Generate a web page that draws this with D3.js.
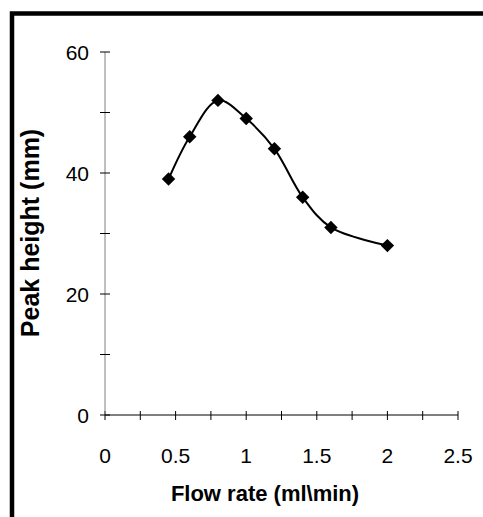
<!DOCTYPE html>
<html>
<head>
<meta charset="utf-8">
<script src="https://cdn.jsdelivr.net/npm/d3@7"></script>
<style>
    body { margin: 0; background: #fff; }
    svg { display: block; font-family: Arial, "Liberation Sans", sans-serif; }
</style>
</head>
<body>
<div id="chart"></div>
<script>
// flow rate (ml/min) vs peak height (mm)
var flowRate = [0.45, 0.6, 0.8, 1.0, 1.2, 1.4, 1.6, 2.0];
var peakHeight = [39, 46, 52, 49, 44, 36, 31, 28];
var xTicks = [0, 0.5, 1, 1.5, 2, 2.5];
var xMinorTicks = [0.25, 0.75, 1.25, 1.75, 2.25];
var yTicks = [0, 20, 40, 60];
var yMinorTicks = [10, 30, 50];

var width = 483, height = 517;

var svg = d3.select("#chart")
    .append("svg")
    .attr("width", width)
    .attr("height", height);

// frame (only top and left edges are inside the picture)
svg.append("rect")
    .attr("x", 12)
    .attr("y", 13.5)
    .attr("width", 600)
    .attr("height", 600)
    .attr("fill", "none")
    .attr("stroke", "#000")
    .attr("stroke-width", 4.5);

var x = d3.scaleLinear().domain([0, 2.5]).range([105, 458]);
var y = d3.scaleLinear().domain([0, 60]).range([415, 52]);

// x axis
var xAxis = svg.append("g");
xAxis.append("line")
    .attr("x1", x(0)).attr("x2", x(2.5))
    .attr("y1", y(0)).attr("y2", y(0))
    .attr("stroke", "#000");
xAxis.selectAll("line.tick")
    .data(xTicks.concat(xMinorTicks))
    .enter().append("line")
    .attr("class", "tick")
    .attr("x1", function (d) { return x(d); })
    .attr("x2", function (d) { return x(d); })
    .attr("y1", y(0) - 4)
    .attr("y2", y(0) + 5)
    .attr("stroke", "#000");
xAxis.selectAll("text")
    .data(xTicks)
    .enter().append("text")
    .attr("x", function (d) { return x(d); })
    .attr("y", 463)
    .attr("text-anchor", "middle")
    .style("font-size", "21px")
    .text(function (d) { return d; });

// y axis
var yAxis = svg.append("g");
yAxis.append("line")
    .attr("x1", x(0)).attr("x2", x(0))
    .attr("y1", y(0)).attr("y2", y(60))
    .attr("stroke", "#808080");
yAxis.selectAll("line.tick")
    .data(yTicks.concat(yMinorTicks))
    .enter().append("line")
    .attr("class", "tick")
    .attr("x1", x(0) - 5)
    .attr("x2", x(0) + 5)
    .attr("y1", function (d) { return y(d); })
    .attr("y2", function (d) { return y(d); })
    .attr("stroke", "#000");
yAxis.selectAll("text")
    .data(yTicks)
    .enter().append("text")
    .attr("x", 89)
    .attr("y", function (d) { return y(d) + 7.5; })
    .attr("text-anchor", "end")
    .style("font-size", "21px")
    .text(function (d) { return d; });

// axis titles
svg.append("text")
    .attr("x", 265)
    .attr("y", 501)
    .attr("text-anchor", "middle")
    .style("font-size", "22px")
    .style("font-weight", "bold")
    .text("Flow rate (ml\\min)");

svg.append("text")
    .attr("transform", "translate(39,233) rotate(-90)")
    .attr("text-anchor", "middle")
    .style("font-size", "25px")
    .style("font-weight", "bold")
    .text("Peak height (mm)");

// smoothed line
var points = flowRate.map(function (d, i) { return [d, peakHeight[i]]; });
var line = d3.line()
    .x(function (d) { return x(d[0]); })
    .y(function (d) { return y(d[1]); })
    .curve(d3.curveCatmullRom.alpha(0.5));

svg.append("path")
    .datum(points)
    .attr("d", line)
    .attr("fill", "none")
    .attr("stroke", "#000")
    .attr("stroke-width", 2);

// diamond markers
svg.append("g")
    .selectAll("path")
    .data(points)
    .enter().append("path")
    .attr("d", d3.symbol(d3.symbolSquare, 90))
    .attr("transform", function (d) {
        return "translate(" + x(d[0]) + "," + y(d[1]) + ") rotate(45)";
    })
    .attr("fill", "#000");
</script>
</body>
</html>
